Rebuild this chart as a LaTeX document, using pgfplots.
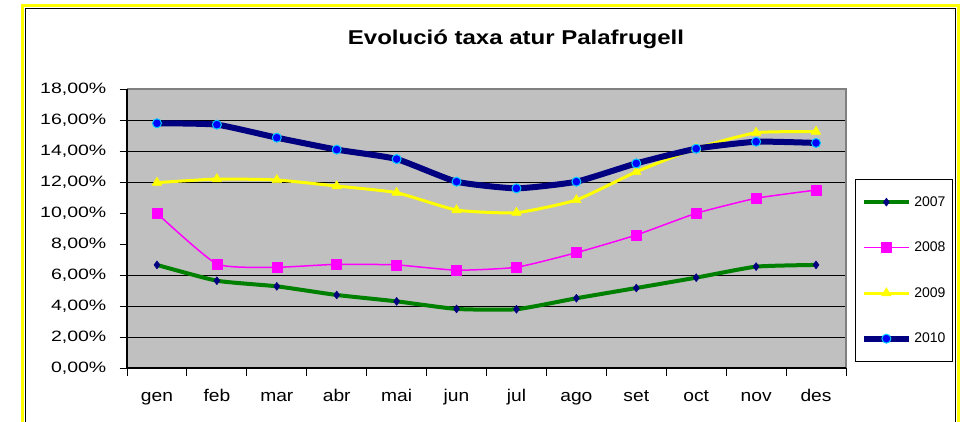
\documentclass[border=0pt]{standalone}
\usepackage{fontspec}
\setmainfont{Liberation Sans}
\newfontfamily\titlefont[FakeStretch=1.2]{Liberation Sans}
\newfontfamily\yfont[FakeStretch=1.3]{Liberation Sans}
\newfontfamily\xfont[FakeStretch=1.13]{Liberation Sans}
\newfontfamily\legfont{Liberation Sans}
\usepackage{pgfplots}
\pgfplotsset{compat=1.18}
\definecolor{bgray}{HTML}{C0C0C0}
\definecolor{navyc}{HTML}{000080}
\definecolor{greenc}{HTML}{008000}
\definecolor{magc}{HTML}{FF00FF}
\definecolor{yelc}{HTML}{FFFF00}
\definecolor{bluec}{HTML}{0000FF}
\definecolor{cyanc}{HTML}{00CCFF}
\definecolor{grayc}{HTML}{808080}
\begin{document}
\begin{tikzpicture}[x=1pt,y=1pt]
\useasboundingbox (0,0) rectangle (960,421);
\begin{scope}
\clip (0,0) rectangle (960,421);
\fill[white] (0,0) rectangle (960,421);
\draw[yelc, line width=3.5pt] (22.5,-20) rectangle (958.5,415.5);
\draw[black, line width=0.8pt] (25.5,-20) rectangle (955.5,413);
\end{scope}
\node[font=\titlefont\bfseries\fontsize{20}{20}\selectfont, anchor=base] at (516,376) {Evolució taxa atur Palafrugell};
\begin{axis}[
  at={(127pt,53pt)}, anchor=south west,
  scale only axis, width=719pt, height=279pt,
  xmin=0, xmax=12, ymin=0, ymax=18,
  axis background/.style={fill=bgray},
  axis line style={draw=none},
  tick align=outside,
  xtick pos=bottom, ytick pos=left,
  major tick length=7.5pt,
  tick style={black, line width=1pt},
  xtick={0,1,...,12}, xticklabels={},
  extra x ticks={0.5,1.5,2.5,3.5,4.5,5.5,6.5,7.5,8.5,9.5,10.5,11.5},
  extra x tick labels={gen,feb,mar,abr,mai,jun,jul,ago,set,oct,nov,des},
  extra x tick style={major tick length=0pt, tick style={draw=none},
    xticklabel style={font=\xfont\fontsize{17}{17}\selectfont, inner sep=0pt, text height=12pt, text depth=4pt, yshift=-21pt}},
  ytick={0,2,...,18},
  yticklabels={{0,00\%},{2,00\%},{4,00\%},{6,00\%},{8,00\%},{10,00\%},{12,00\%},{14,00\%},{16,00\%},{18,00\%}},
  yticklabel style={font=\yfont\fontsize{15}{15}\selectfont, inner sep=0pt, xshift=-13pt},
  extra y ticks={2,4,6,12,14,16},
  extra y tick labels={},
  extra y tick style={grid=major, major tick length=0pt, tick style={draw=none}},
  grid style={black, line width=0.9pt},
  legend style={at={(1.0125,0.6774)}, anchor=north west, draw=black, line width=0.8pt, fill=white,
    inner xsep=6pt, inner ysep=0pt, row sep=0pt, column sep=2pt, font=\legfont\fontsize{14}{14}\selectfont,
    nodes={inner xsep=1pt, inner ysep=0pt, minimum height=45.5pt}},
  legend cell align=left,
  legend image code/.code={\draw[mark repeat=2,mark phase=2,#1] plot coordinates {(0pt,0pt)(22pt,0pt)(44pt,0pt)};},
  after end axis/.code={
    \draw[grayc, line width=2pt] (rel axis cs:0,1) -- (rel axis cs:1,1) -- (rel axis cs:1,0);
    \draw[black, line width=2.3pt] (rel axis cs:0,0) -- (rel axis cs:0,1);
    \draw[black, line width=1.5pt] (rel axis cs:0,0) -- (rel axis cs:1,0);
  },
]
\addplot[greenc, line width=4pt, line join=round, smooth, tension=0.3, mark=diamond*, mark size=4pt,
  mark options={fill=navyc, draw=navyc, line width=0.5pt}] coordinates {
 (0.5,6.65) (1.5,5.63) (2.5,5.27) (3.5,4.71) (4.5,4.30) (5.5,3.81)
 (6.5,3.79) (7.5,4.50) (8.5,5.16) (9.5,5.83) (10.5,6.54) (11.5,6.65)};
\addlegendentry{2007}
\addplot[magc, line width=1.5pt, line join=round, smooth, tension=0.3, mark=square*, mark size=5pt,
  mark options={fill=magc, draw=magc, line width=0.5pt}] coordinates {
 (0.5,9.98) (1.5,6.71) (2.5,6.50) (3.5,6.69) (4.5,6.65) (5.5,6.31)
 (6.5,6.50) (7.5,7.44) (8.5,8.58) (9.5,9.98) (10.5,10.95) (11.5,11.48)};
\addlegendentry{2008}
\addplot[yelc, line width=3pt, line join=round, smooth, tension=0.3, mark=triangle*, mark size=5.5pt,
  mark options={fill=yelc, draw=yelc, line width=0.5pt}] coordinates {
 (0.5,11.96) (1.5,12.19) (2.5,12.13) (3.5,11.74) (4.5,11.31) (5.5,10.19)
 (6.5,10.02) (7.5,10.84) (8.5,12.66) (9.5,14.17) (10.5,15.18) (11.5,15.25)};
\addlegendentry{2009}
\addplot[navyc, line width=6pt, line join=round, smooth, tension=0.3, mark=*, mark size=4.5pt,
  mark options={fill=bluec, draw=cyanc, line width=1pt}] coordinates {
 (0.5,15.79) (1.5,15.70) (2.5,14.86) (3.5,14.09) (4.5,13.48) (5.5,12.02)
 (6.5,11.59) (7.5,12.02) (8.5,13.20) (9.5,14.15) (10.5,14.60) (11.5,14.52)};
\addlegendentry{2010}
\end{axis}
\end{tikzpicture}
\end{document}
